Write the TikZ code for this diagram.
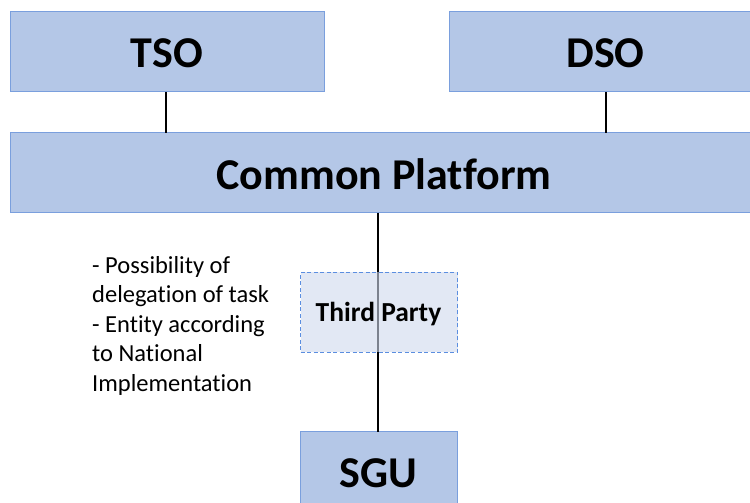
\documentclass[tikz,border=0pt]{standalone}
\usepackage{fontspec}
\setmainfont[RawFeature={-liga}]{Carlito}
\definecolor{boxfill}{HTML}{B4C7E7}
\definecolor{boxline}{HTML}{7A9FDD}
\definecolor{tpfill}{HTML}{D0DAEE}
\definecolor{tpline}{HTML}{5B8EE0}
\tikzset{
  x=1pt,y=1pt,
  mainbox/.style={draw=boxline, line width=0.9pt, fill=boxfill},
  title/.style={font=\fontsize{44}{52}\selectfont\bfseries, inner sep=0pt},
  tpbox/.style={draw=tpline, line width=1.1pt, dash pattern=on 4pt off 2.5pt, fill=tpfill, fill opacity=0.6},
  link/.style={line width=1.8pt, black}
}
\begin{document}
\begin{tikzpicture}
\useasboundingbox (0,0) rectangle (750,503);
\clip (0,0) rectangle (750,503);
\fill[white] (0,0) rectangle (750,503);
% boxes
\node[mainbox, minimum width=314pt, minimum height=80pt, inner sep=0pt, anchor=south west] (tso) at (10,411) {};
\node[mainbox, minimum width=314pt, minimum height=80pt, inner sep=0pt, anchor=south west] (dso) at (449,411) {};
\node[mainbox, minimum width=748pt, minimum height=80pt, inner sep=0pt, anchor=south west] (cp) at (10,290) {};
\node[mainbox, minimum width=157pt, minimum height=80pt, inner sep=0pt, anchor=south west] (sgu) at (300,-9) {};
% connectors
\coordinate (tsoB) at (166,411);
\coordinate (cpT1) at (166,370);
\coordinate (dsoB) at (606,411);
\coordinate (cpT2) at (606,370);
\coordinate (cpB) at (378,290);
\coordinate (sguT) at (378,71);
\draw[link] (tsoB) -- (cpT1);
\draw[link] (dsoB) -- (cpT2);
\draw[link] (cpB) -- (sguT);
% third party box over line
\node[tpbox, minimum width=157pt, minimum height=80pt, inner sep=0pt, anchor=south west] (tp) at (300,150) {};
% labels
\node[title] (tsoL) at (167,449.5) {TSO};
\node[title] (dsoL) at (605.5,449.5) {DSO};
\node[title] (cpL) at (384,328.5) {Common Platform};
\node[title] (sguL) at (378.5,29.5) {SGU};
\node[font=\fontsize{27.5}{33}\selectfont\bfseries, inner sep=0pt] (tpL) at (378.5,188.5) {Third Party};
\node[font=\fontsize{24.5}{29.5}\selectfont, align=left, anchor=north west, inner sep=0pt] (note) at (92,247)
  {- Possibility of\\delegation of task\\- Entity according\\to National\\Implementation};
\end{tikzpicture}
\end{document}
